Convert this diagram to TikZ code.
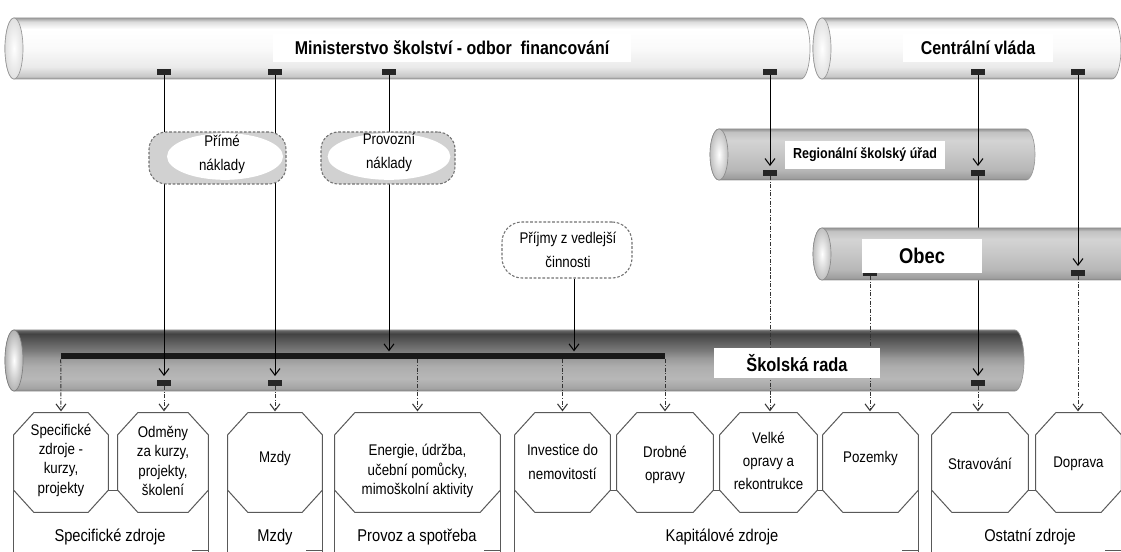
\documentclass[tikz,border=0pt]{standalone}
\usepackage{fontspec}
\setmainfont{Liberation Sans}[FakeStretch=0.86]
\usetikzlibrary{arrows.meta,shapes.geometric}

\colorlet{wA}{black!45}\colorlet{wB}{black!22}\colorlet{wC}{black!8}\colorlet{wD}{black!2}\colorlet{wE}{white}\colorlet{wF}{black!14}\colorlet{wG}{black!38}
\pgfdeclareverticalshading{cylW}{100bp}{color(0bp)=(wA); color(25bp)=(wA); color(27bp)=(wB); color(35bp)=(wC); color(50bp)=(wD); color(66bp)=(wE); color(72bp)=(wF); color(75bp)=(wG); color(100bp)=(wG)}
\colorlet{gA}{black!55}\colorlet{gB}{black!38}\colorlet{gC}{black!28}\colorlet{gD}{black!22}\colorlet{gE}{black!17}\colorlet{gF}{black!24}\colorlet{gG}{black!42}
\pgfdeclareverticalshading{cylG}{100bp}{color(0bp)=(gA); color(25bp)=(gA); color(27bp)=(gB); color(35bp)=(gC); color(50bp)=(gD); color(64bp)=(gE); color(72bp)=(gF); color(75bp)=(gG); color(100bp)=(gG)}
\colorlet{dA}{black!52}\colorlet{dB}{black!36}\colorlet{dC}{black!28}\colorlet{dD}{black!32}\colorlet{dE}{black!40}\colorlet{dF}{black!52}\colorlet{dG}{black!63}\colorlet{dH}{black!74}\colorlet{dI}{black!58}
\pgfdeclareverticalshading{cylD}{100bp}{color(0bp)=(dA); color(25bp)=(dA); color(27bp)=(dB); color(35bp)=(dC); color(45bp)=(dD); color(52bp)=(dE); color(58bp)=(dF); color(65bp)=(dG); color(72bp)=(dH); color(75bp)=(dI); color(100bp)=(dI)}

% cylinder: x1 y1 x2 y2 shading capstyle
\newcommand\cyl[6]{%
  \pgfmathsetmacro\cylry{(#4-#2)/2}%
  \shadedraw[cylbody, shading=#5] (#1,#2) -- ({#3-9},#2) arc[start angle=-90,end angle=90,x radius=9,y radius=\cylry] -- (#1,#4) arc[start angle=90,end angle=270,x radius=9,y radius=\cylry] -- cycle;
  \path[#6] (#1,{(#2+#4)/2}) ellipse[x radius=9, y radius=\cylry];
}
% octagon box: name, x1, x2, text y, baselineskip, text
\newcommand\octo[6]{%
  \node[octn, minimum width={(#3-#2)*0.75pt}] (#1) at ({(#2+#3)/2},462.5) {};
  \draw[octline] ([xshift=15pt]#1.north west) -- ([xshift=-15pt]#1.north east) -- ([yshift=-16.5pt]#1.north east) -- ([yshift=16.5pt]#1.south east) -- ([xshift=-15pt]#1.south east) -- ([xshift=15pt]#1.south west) -- ([yshift=16.5pt]#1.south west) -- ([yshift=-16.5pt]#1.north west) -- cycle;
  \node[octt, font=\fontsize{11.6}{#5}\selectfont] (#1t) at ({(#2+#3)/2},#4) {#6};
}

\begin{document}
\begin{tikzpicture}[x=0.75pt,y=-0.75pt,
  cylbody/.style={draw=black!40, line width=0.5pt},
  capW/.style={draw=black!40, line width=0.5pt, inner color=white, outer color=black!12},
  capG/.style={draw=black!45, line width=0.5pt, inner color=white, outer color=black!25},
  capD/.style={draw=black!50, line width=0.5pt, inner color=white, outer color=black!30},
  ln/.style={line width=0.75pt, draw=black},
  arr/.style={-{Straight Barb[length=5pt,width=7.5pt,line width=0.8pt]}},
  dd/.style={line width=0.75pt, draw=black!80, dash pattern=on 3pt off 1.2pt on 0.8pt off 1.2pt},
  mk/.style={rectangle, fill=black!85, minimum width=10pt, minimum height=4pt, inner sep=0pt},
  lab/.style={fill=white, inner sep=0pt},
  octn/.style={rectangle, minimum height=74.25pt, inner sep=0pt},
  octt/.style={align=center, inner sep=0pt},
  octline/.style={draw=black!65, line width=0.75pt},
  grp/.style={draw=black!65, line width=0.75pt},
  glab/.style={inner sep=0pt, font=\fontsize{12.8}{14}\selectfont},
  cldG/.style={rectangle, rounded corners=13pt, draw=black!55, line width=0.8pt, dash pattern=on 2pt off 1.3pt, fill=black!18, inner sep=0pt},
  cldW/.style={rectangle, rounded corners=15pt, draw=black!55, line width=0.8pt, dash pattern=on 2pt off 1.3pt, fill=white, inner sep=0pt},
  ell/.style={ellipse, fill=white, inner sep=0pt},
  ctext/.style={align=center, inner sep=0pt, font=\fontsize{11.6}{18}\selectfont},
]
\useasboundingbox (0,0) rectangle (1121,552);
\fill[white] (0,0) rectangle (1121,552);

% cylinders
\cyl{14}{18}{810}{79}{cylW}{capW}
\cyl{822}{18}{1121}{79}{cylW}{capW}
\cyl{719}{129}{1035}{180}{cylG}{capG}
\cyl{14}{330}{1024}{391}{cylD}{capD}

\node[fill=black!90, minimum width=453pt, minimum height=4.5pt, inner sep=0pt] (bar) at (363,356) {};

% markers
\node[mk] (mA) at (164,72) {};
\node[mk] (mB) at (275,72) {};
\node[mk] (mC) at (389,72) {};
\node[mk] (mD) at (770,72) {};
\node[mk] (mE) at (978,72) {};
\node[mk] (mF) at (1078,72) {};
\node[mk] (rD) at (770,173) {};
\node[mk] (rE) at (978,173) {};
\node[mk] (sA) at (164,383) {};
\node[mk] (sB) at (275,383) {};
\node[mk] (sE) at (978,383) {};

\draw[ln,arr,shorten >=3pt] (rE.south) -- (sE.north);

\cyl{822}{228}{1130}{280}{cylG}{capG}
\node[mk] (bO) at (870,273) {};
\node[mk] (bF) at (1078,273) {};

% octagon boxes
\octo{o1}{14}{108}{460}{14.5}{Specifické\\zdroje -\\kurzy,\\projekty}
\octo{o2}{118}{208}{461}{14.5}{Odměny\\za kurzy,\\projekty,\\školení}
\octo{o3}{228}{322}{459}{14.5}{Mzdy}
\octo{o4}{335}{500}{471}{14.5}{Energie, údržba,\\učební pomůcky,\\mimoškolní aktivity}
\octo{o5}{515}{610}{462}{18}{Investice do\\nemovitostí}
\octo{o6}{617}{713}{465}{17}{Drobné\\opravy}
\octo{o7}{720}{817}{461}{17}{Velké\\opravy a\\rekontrukce}
\octo{o8}{823}{918}{459}{14.5}{Pozemky}
\octo{o9}{932}{1028}{464}{14.5}{Stravování}
\octo{o10}{1036}{1121}{464}{14.5}{Doprava}

% solid connectors
\draw[ln,arr,shorten >=3pt] (mA.south) -- (sA.north);
\draw[ln,arr,shorten >=3pt] (mB.south) -- (sB.north);
\draw[ln,arr,shorten >=1pt] (mC.south) -- (mC.south |- bar.north);
\draw[ln,arr,shorten >=3pt] (mD.south) -- (rD.north);
\draw[ln,arr,shorten >=3pt] (mE.south) -- (rE.north);
\draw[ln,arr,shorten >=3pt] (mF.south) -- (bF.north);

% dash-dot connectors to boxes
\draw[dd,arr,shorten >=1pt] (bar.south west) -- (o1.north);
\draw[dd,arr,shorten >=1pt] (sA.south) -- (sA.south |- o2.north);
\draw[dd,arr,shorten >=1pt] (sB.south) -- (sB.south |- o3.north);
\draw[dd,arr,shorten >=1pt] (bar.south -| o4.north) -- (o4.north);
\draw[dd,arr,shorten >=1pt] (bar.south -| o5.north) -- (o5.north);
\draw[dd,arr,shorten >=1pt] (bar.south -| o6.north) -- (o6.north);
\draw[dd,arr,shorten >=1pt] (rD.south) -- (rD.south |- o7.north);
\draw[dd,arr,shorten >=1pt] (bO.south) -- (bO.south |- o8.north);
\draw[dd,arr,shorten >=1pt] (sE.south) -- (sE.south |- o9.north);
\draw[dd,arr,shorten >=1pt] (bF.south) -- (bF.south |- o10.north);

% clouds
\node[cldG, minimum width=102.75pt, minimum height=39pt] (pnc) at (217.5,158) {};
\node[ell, minimum width=87pt, minimum height=35pt] (pne) at (225,156.5) {};
\node[ctext] (pnt) at (222,154) {Přímé\\náklady};
\node[cldG, minimum width=100.5pt, minimum height=39pt] (pvc) at (388,158) {};
\node[ell, minimum width=92pt, minimum height=35pt] (pve) at (389,156.5) {};
\node[ctext] (pvt) at (389,152) {Provozní\\náklady};
\node[cldW, minimum width=97.5pt, minimum height=42pt] (pj) at (567,250) {};
\node[ctext] (pjt) at (568,250) {Příjmy z vedlejší\\činnosti};
\draw[ln,arr,shorten >=1pt] ([xshift=5.25pt]pj.south) -- ([xshift=5.25pt]pj.south |- bar.north);

% cylinder labels
\node[lab, minimum width=268.5pt, minimum height=21pt, font=\bfseries\fontsize{13.9}{15}\selectfont] (min) at (452,48) {Ministerstvo školství - odbor~ financování};
\node[lab, minimum width=112.5pt, minimum height=21pt, font=\bfseries\fontsize{13.9}{15}\selectfont] (cv) at (978,48) {Centrální vláda};
\node[lab, minimum width=120pt, minimum height=21pt, font=\bfseries\fontsize{10.9}{12}\selectfont] (rsu) at (865,155) {Regionální školský úřad};
\node[lab, minimum width=90pt, minimum height=25.5pt, font=\bfseries\fontsize{16}{18}\selectfont] (obec) at (922,256) {Obec};
\node[lab, minimum width=124.5pt, minimum height=22.5pt, font=\bfseries\fontsize{14.3}{16}\selectfont] (sr) at (797,363) {Školská rada};

% group outlines
\coordinate (ys) at (0,490);
\coordinate (yb) at (0,554);
\coordinate (yc) at (0,550);
\foreach \l/\r in {o1/o2,o3/o3,o4/o4,o5/o8,o9/o10}{
  \draw[grp] (\l.west |- ys) -- (\l.west |- yb);
  \draw[grp] (\r.east |- ys) -- (\r.east |- yb);
  \draw[grp] ([xshift=-12pt]\r.east |- yc) -- (\r.east |- yc);
}
\foreach \a/\b in {o1/o2,o5/o6,o6/o7,o7/o8,o9/o10}{
  \draw[grp] (\a.east |- ys) -- (\b.west |- ys);
}
\node[glab] (g1) at (110,537) {Specifické zdroje};
\node[glab] (g2) at (275,537) {Mzdy};
\node[glab] (g3) at (417,537) {Provoz a spotřeba};
\node[glab] (g4) at (722,537) {Kapitálové zdroje};
\node[glab] (g5) at (1030,537) {Ostatní zdroje};
\end{tikzpicture}
\end{document}
